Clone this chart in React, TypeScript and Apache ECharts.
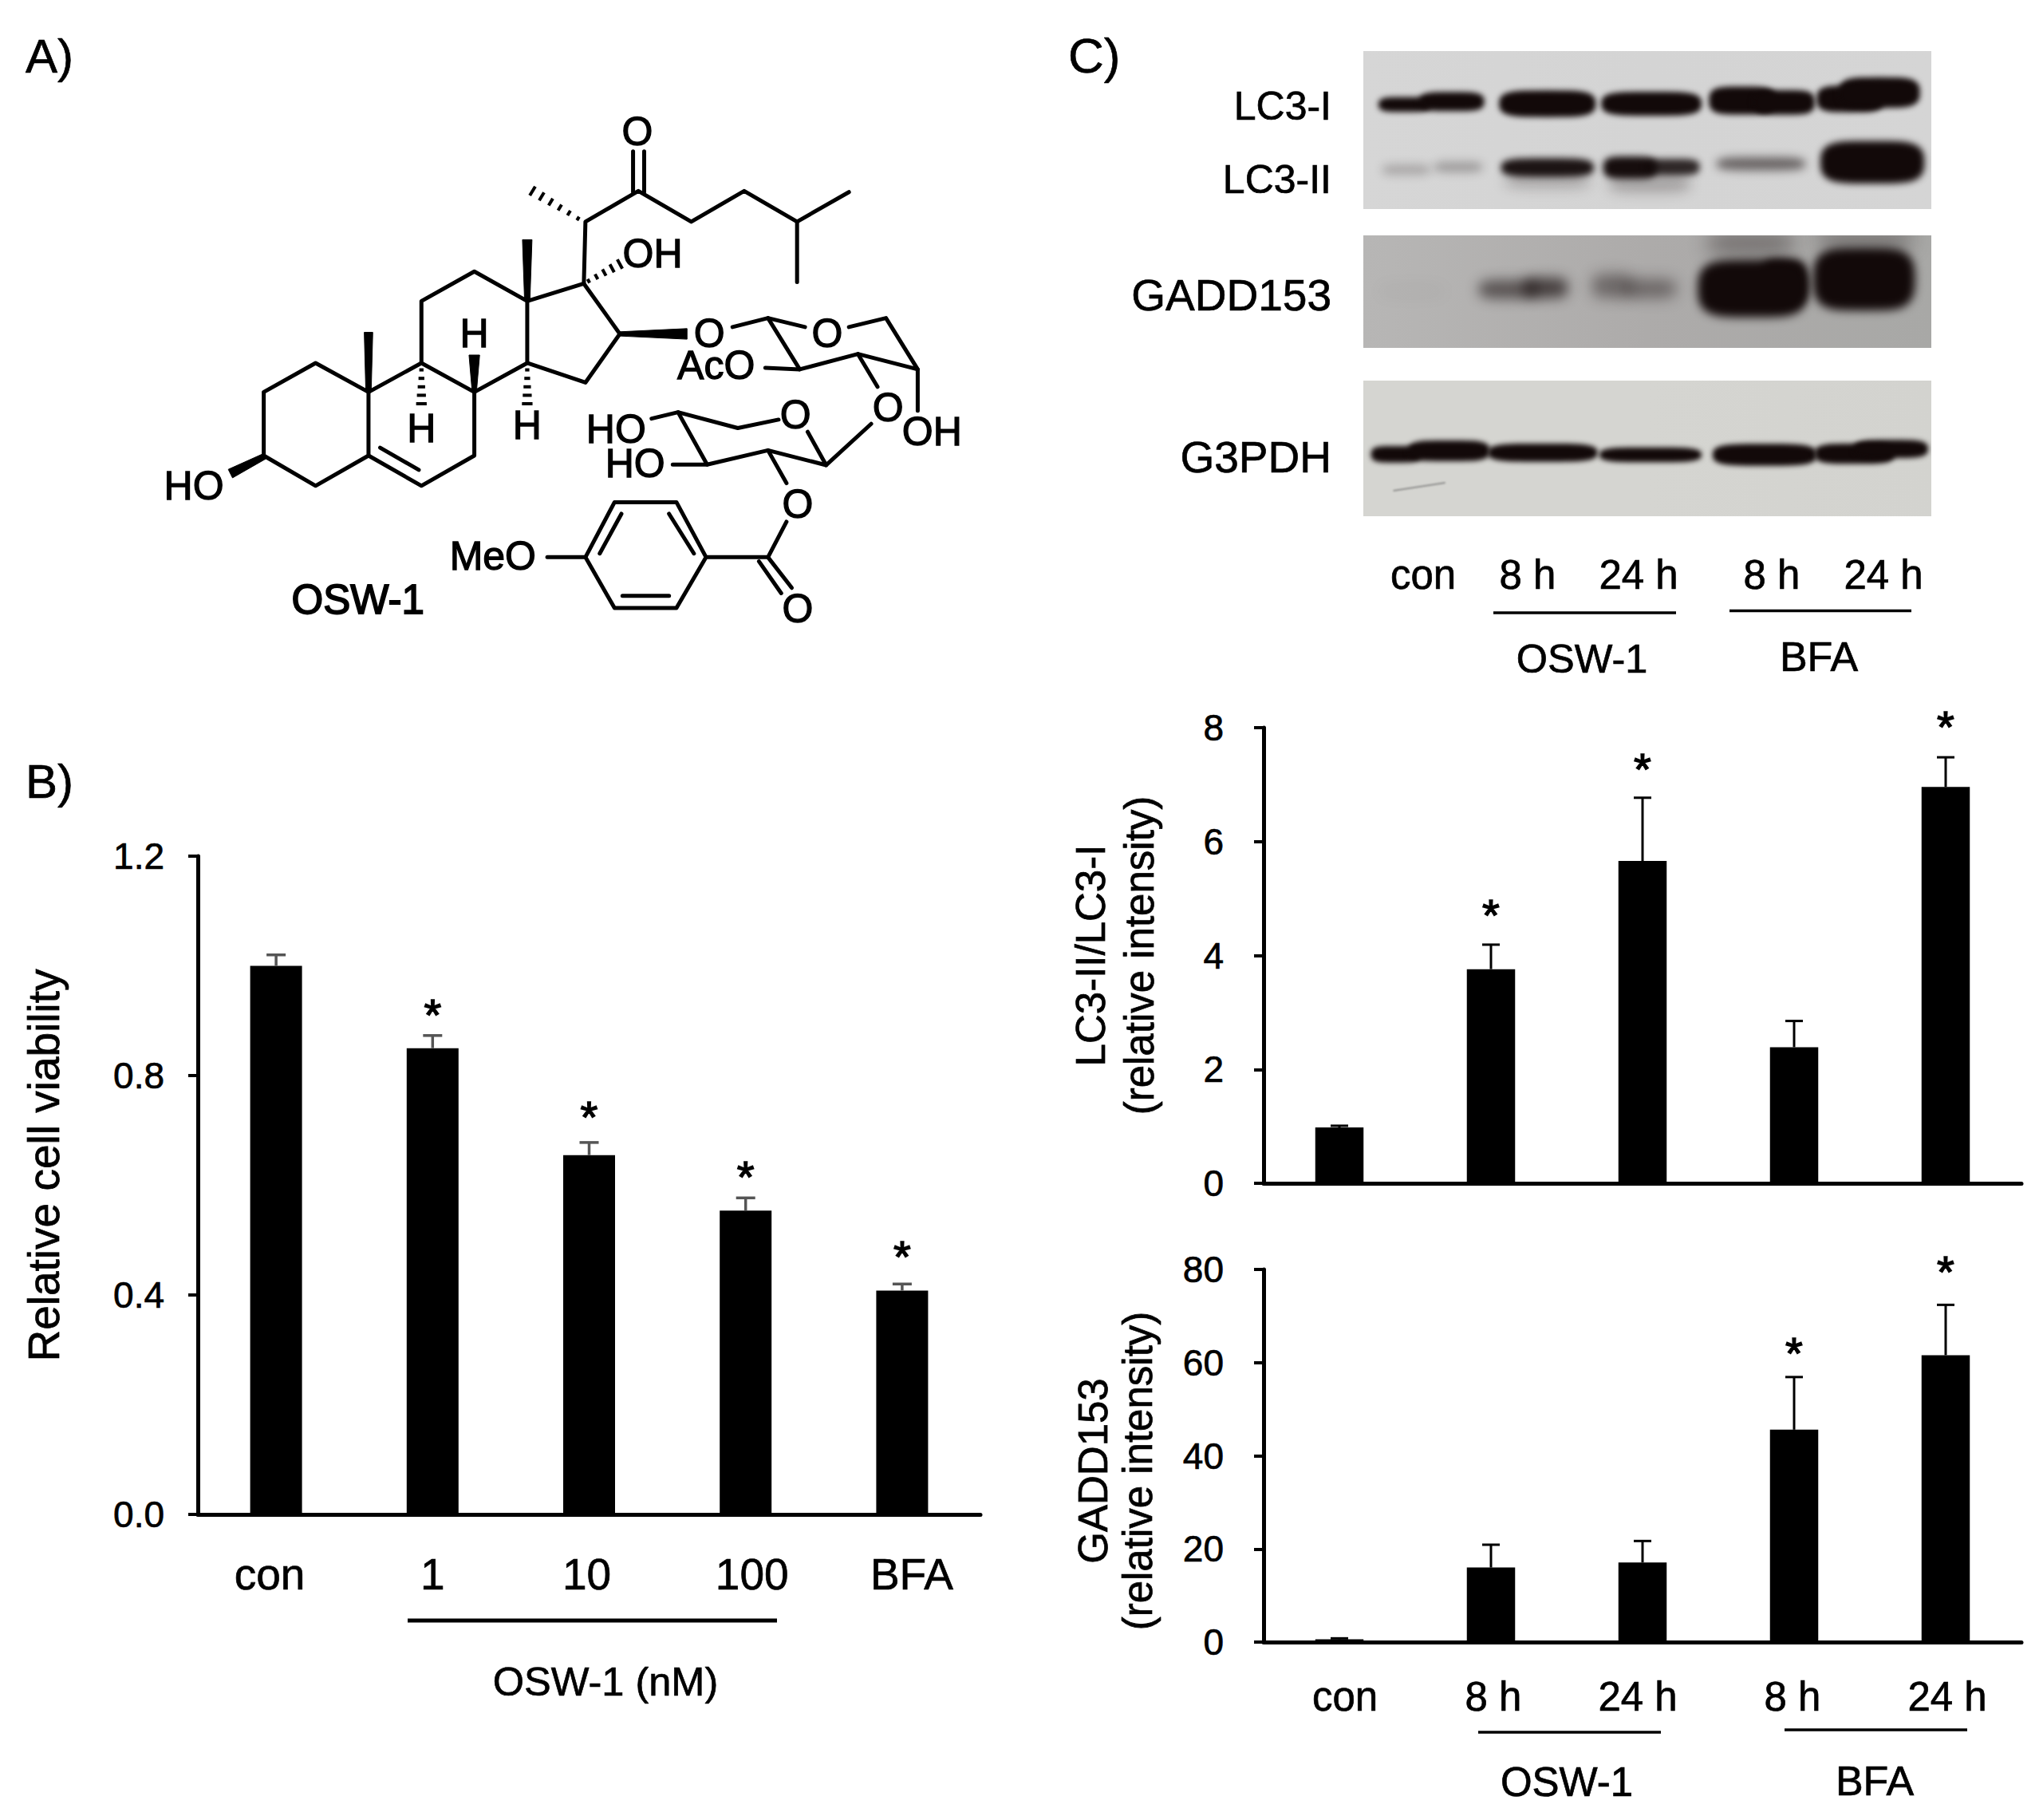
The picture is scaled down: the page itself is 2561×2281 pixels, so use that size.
import React, { useEffect, useRef } from "react";
import * as echarts from "echarts";

const FONT = '"Liberation Sans", Arial, sans-serif';

// ---------- Panel B data
const viabilityCategories = ["con", "1", "10", "100", "BFA"];
const viabilityValues = [1.0, 0.85, 0.655, 0.554, 0.408];
const viabilityErrorTops = [1.02, 0.873, 0.678, 0.577, 0.42];
const viabilityStarY = [null, 0.923, 0.737, 0.628, 0.482];
const viabilityStarX = [0, 0.995, 2.05, 3.005, 4.035];
const viabilityLabelShift = [-8, 0, -3, 8, 12];

// ---------- Panel C data
const timeCategories = ["con", "8 h", "24 h", "8 h", "24 h"];
const lc3Values = [0.98, 3.76, 5.66, 2.39, 6.96];
const lc3ErrorTops = [1.01, 4.19, 6.77, 2.85, 7.48];
const lc3StarY = [null, 4.82, 7.39, null, 8.14];
const gaddValues = [0.6, 16, 17.1, 45.6, 61.6];
const gaddErrorTops = [0.8, 20.9, 21.7, 56.9, 72.4];
const gaddStarY = [null, null, null, 63.4, 81.0];
const timeStarX = [0, 1, 2, 3, 4];
const timeLabelShift = [7, 3, -6, -2, 2];

// ---------- Western blots: bands are [x1, x2, y, thickness, alpha, blur] in crop units of the reference
const lc3Bands = [
  [60, 200, 243, 56, 1, 3.5], [170, 345, 232, 72, 1, 3.5], [385, 645, 240, 100, 1, 3.5], [660, 930, 240, 90, 1, 3.5],
  [950, 1130, 228, 105, 1, 3.5], [1070, 1235, 235, 92, 1, 3.5], [1240, 1420, 222, 100, 1, 3.5], [1300, 1518, 198, 115, 1, 3.5],
  [70, 200, 488, 40, 0.22, 6], [210, 340, 478, 40, 0.28, 6],
  [400, 630, 530, 56, 0.22, 8], [390, 640, 480, 70, 0.95, 4.5], [680, 900, 540, 66, 0.25, 8],
  [665, 810, 480, 84, 0.98, 4.5], [780, 925, 478, 62, 0.85, 4.5], [970, 1210, 466, 50, 0.55, 6], [1250, 1530, 460, 160, 1, 4],
];
const gaddBands = [
  [60, 240, 225, 40, 0.03, 10], [330, 490, 218, 72, 0.55, 8], [450, 570, 212, 78, 0.66, 8],
  [635, 745, 205, 90, 0.42, 9], [720, 862, 215, 72, 0.42, 9],
  [945, 1180, 45, 90, 0.35, 12], [1240, 1500, 30, 70, 0.35, 12], [1090, 1215, 190, 170, 1, 6],
  [920, 1215, 215, 215, 1, 6], [1230, 1505, 180, 235, 1, 6],
];
const g3pdhBands = [
  [40, 175, 838, 62, 1, 3], [140, 360, 825, 78, 1, 3], [355, 650, 832, 68, 1, 3], [655, 930, 840, 56, 1, 3],
  [960, 1240, 840, 82, 1, 3], [1235, 1450, 836, 76, 1, 3], [1340, 1540, 818, 68, 1, 3],
];
const blotPanels = [
  { y1: 64, y2: 262, originY: 50, stops: ["#d6d6d6", "#d4d4d4", "#d5d5d5"], bands: lc3Bands },
  { y1: 295, y2: 436, originY: 290, stops: ["#b7b6b5", "#adabaa", "#a8a8a6"], bands: gaddBands },
  { y1: 477, y2: 647, originY: 290, stops: ["#d5d5d1", "#d5d5d1", "#d3d3cf"], bands: g3pdhBands },
];

// ---------- OSW-1 structure (crop units of the reference)
const bondChains = [
  [[212, 560], [310, 505], [410, 560], [410, 680], [310, 737], [212, 680], [212, 560]],
  [[410, 560], [510, 505], [610, 560], [610, 680], [510, 737], [410, 680]],
  [[510, 505], [510, 388], [610, 332], [710, 388], [710, 505], [610, 560]],
  [[710, 388], [817, 355], [885, 450], [820, 542], [710, 505]],
  [[432, 665], [505, 707]],
  [[817, 355], [820, 238], [920, 180], [1020, 238], [1120, 180], [1220, 238], [1318, 182]],
  [[1220, 238], [1220, 352]],
  [[910, 182], [910, 105]],
  [[931, 182], [931, 105]],
  [[1098, 437], [1165, 420], [1235, 437]],
  [[1318, 437], [1388, 420], [1448, 517], [1335, 488], [1225, 517], [1165, 420]],
  [[1160, 514], [1225, 517]],
  [[1335, 488], [1372, 550]],
  [[1448, 517], [1448, 595]],
  [[1360, 620], [1275, 698], [1240, 635]],
  [[1185, 612], [1108, 628], [995, 598], [945, 610]],
  [[995, 598], [1050, 697], [985, 697]],
  [[1050, 697], [1165, 670], [1275, 698]],
  [[1165, 670], [1200, 732]],
  [[1200, 805], [1165, 872], [1048, 872], [992, 768], [875, 768], [820, 872], [875, 968], [992, 968], [1048, 872]],
  [[1165, 872], [1210, 930]],
  [[1148, 880], [1190, 940]],
  [[978, 790], [1025, 865]],
  [[888, 790], [847, 865]],
  [[890, 945], [978, 945]],
  [[820, 872], [748, 872]],
];
const wedges = [
  [[405, 560], [415, 560], [418, 447], [402, 447]],
  [[705, 388], [715, 388], [719, 272], [701, 272]],
  [[606, 560], [614, 560], [620, 490], [600, 490]],
  [[212, 676], [216, 686], [153, 722], [145, 706]],
  [[885, 446], [885, 454], [1012, 460], [1012, 440]],
];
const hashes = [
  [[510, 518], [510, 582], 5],
  [[710, 518], [710, 582], 5],
  [[806, 232], [720, 180], 6],
  [[826, 350], [885, 318], 5],
];
const atomLabels = [
  ["O", 918, 68], ["OH", 947, 298], ["H", 610, 450], ["H", 510, 628], ["H", 710, 622], ["HO", 80, 738],
  ["O", 1054, 450], ["O", 1277, 450], ["AcO", 1067, 510], ["O", 1392, 590], ["OH", 1475, 635], ["O", 1217, 603],
  ["HO", 878, 630], ["HO", 914, 695], ["O", 1221, 772], ["O", 1221, 970], ["MeO", 645, 870],
];

function makeBlotImage() {
  const KX = 2.148;
  const ox = 1709, oy = 64, w = 712, h = 584;
  const c = document.createElement("canvas");
  c.width = w;
  c.height = h;
  const ctx = c.getContext("2d") as CanvasRenderingContext2D;
  const X = (z: number) => 1700 + z / KX - ox;
  blotPanels.forEach((p) => {
    const y1 = p.y1 - oy, y2 = p.y2 - oy;
    ctx.save();
    ctx.beginPath();
    ctx.rect(0, y1, w, y2 - y1);
    ctx.clip();
    const g = ctx.createLinearGradient(0, 0, w, 0);
    g.addColorStop(0, p.stops[0]);
    g.addColorStop(0.5, p.stops[1]);
    g.addColorStop(1, p.stops[2]);
    ctx.fillStyle = g;
    ctx.fillRect(0, y1, w, y2 - y1);
    p.bands.forEach(([x1, x2, y, t, a, b]) => {
      ctx.filter = `blur(${b}px)`;
      ctx.fillStyle = `rgba(18,9,9,${a})`;
      const cx = X((x1 + x2) / 2), cy = p.originY + y / 3 - oy;
      const rx = (x2 - x1) / KX / 2, ry = t / 3 / 2;
      ctx.beginPath();
      for (let i = 0; i <= 72; i++) {
        const th = (i / 72) * Math.PI * 2;
        const co = Math.cos(th), si = Math.sin(th);
        const px = cx + rx * Math.sign(co) * Math.pow(Math.abs(co), 0.45);
        const py = cy + ry * Math.sign(si) * Math.pow(Math.abs(si), 0.7);
        if (i === 0) ctx.moveTo(px, py);
        else ctx.lineTo(px, py);
      }
      ctx.closePath();
      ctx.fill();
    });
    ctx.filter = "none";
    if (p.bands === g3pdhBands) {
      ctx.filter = "blur(1.2px)";
      ctx.strokeStyle = "rgba(90,90,90,0.55)";
      ctx.lineWidth = 2;
      ctx.beginPath();
      ctx.moveTo(X(100), 290 + 975 / 3 - oy);
      ctx.lineTo(X(240), 290 + 945 / 3 - oy);
      ctx.stroke();
      ctx.filter = "none";
    }
    ctx.restore();
  });
  return { url: c.toDataURL("image/png"), ox, oy, w, h };
}

function txt(text: string, x: number, y: number, size: number, extra: any = {}) {
  const { align = "center", ...style } = extra;
  return {
    type: "text",
    silent: true,
    x,
    y,
    style: {
      text,
      fontSize: size,
      fontFamily: FONT,
      fill: "#000",
      stroke: "#000",
      lineWidth: 0.7,
      align,
      textAlign: align,
      verticalAlign: "middle",
      textVerticalAlign: "middle",
      ...style,
    },
  };
}

function seg(x1: number, x2: number, y1: number, y2: number, w: number) {
  return { type: "line", silent: true, shape: { x1, y1, x2, y2 }, style: { stroke: "#000", lineWidth: w } };
}

function structureElements() {
  const K = 1.5077;
  const X = (z: number) => 190 + z / K;
  const Y = (z: number) => 120 + z / K;
  const out: any[] = [];
  bondChains.forEach((chain) => {
    out.push({
      type: "polyline",
      silent: true,
      shape: { points: chain.map(([a, b]) => [X(a), Y(b)]) },
      style: { stroke: "#000", lineWidth: 5, fill: "none", lineJoin: "round", lineCap: "round" },
    });
  });
  wedges.forEach((w) => {
    out.push({
      type: "polygon",
      silent: true,
      shape: { points: w.map(([a, b]) => [X(a), Y(b)]) },
      style: { fill: "#000", stroke: "#000", lineWidth: 1 },
    });
  });
  hashes.forEach(([p, q, n]: any) => {
    const dx = q[0] - p[0], dy = q[1] - p[1];
    const len = Math.hypot(dx, dy);
    const px = -dy / len, py = dx / len;
    for (let i = 0; i < n; i++) {
      const t = i / (n - 1);
      const half = 4 + t * 6;
      const cx = p[0] + dx * t, cy = p[1] + dy * t;
      out.push(seg(X(cx - px * half), X(cx + px * half), Y(cy - py * half), Y(cy + py * half), 4));
    }
  });
  atomLabels.forEach(([t, a, b]: any) => {
    out.push(txt(t, X(a), Y(b), 50, { lineWidth: 1.3 }));
  });
  out.push(txt("OSW-1", X(390), Y(952), 51, { lineWidth: 1.8 }));
  return out;
}

function errorSeries(
  xAxisIndex: number,
  values: number[],
  tops: number[],
  starY: (number | null)[],
  starX: number[],
  color: string,
  lw: number,
  capW: number,
) {
  return {
    type: "custom",
    xAxisIndex,
    yAxisIndex: xAxisIndex,
    silent: true,
    z: 5,
    clip: false,
    encode: { x: 0, y: 2 },
    data: values.map((v, i) => [i, v, tops[i], starY[i] == null ? NaN : starY[i], starX[i]]),
    renderItem: (_: any, api: any) => {
      const i = api.value(0);
      const base = api.coord([i, api.value(1)]);
      const top = api.coord([i, api.value(2)]);
      const children: any[] = [
        { type: "line", shape: { x1: base[0], y1: base[1], x2: top[0], y2: top[1] }, style: { stroke: color, lineWidth: lw } },
        {
          type: "line",
          shape: { x1: top[0] - capW / 2, y1: top[1], x2: top[0] + capW / 2, y2: top[1] },
          style: { stroke: color, lineWidth: lw },
        },
      ];
      const sy = api.value(3);
      if (!isNaN(sy)) {
        const p = api.coord([api.value(4), sy]);
        children.push({
          type: "text",
          x: p[0],
          y: p[1] + 8,
          style: {
            text: "*",
            fontSize: 56,
            fontFamily: FONT,
            fill: "#000",
            align: "center",
            textAlign: "center",
            verticalAlign: "middle",
            textVerticalAlign: "middle",
            stroke: "#000",
            lineWidth: 1.5,
          },
        });
      }
      return { type: "group", children };
    },
  };
}

function shiftedLabels(shifts: number[], size: number) {
  const rich: any = {};
  shifts.forEach((s, i) => {
    rich["s" + i] = {
      fontSize: size,
      fontFamily: FONT,
      color: "#000",
      textBorderColor: "#000",
      textBorderWidth: 0.7,
      padding: [0, s < 0 ? -2 * s : 0, 0, s > 0 ? 2 * s : 0],
    };
  });
  return { rich, formatter: (v: string, i: number) => `{s${i}|${v}}` };
}

export default function App() {
  const ref = useRef<HTMLDivElement>(null);
  useEffect(() => {
    const chart = echarts.init(ref.current as HTMLDivElement, undefined, { renderer: "svg" });
    const blot = makeBlotImage();

    const tickLabel = (margin: number) => ({
      fontSize: 46,
      fontFamily: FONT,
      color: "#000",
      textBorderColor: "#000",
      textBorderWidth: 0.7,
      margin,
    });
    const nameStyle = (fontSize: number, lineHeight: number, padding: number[]) => ({
      fontSize,
      lineHeight,
      padding,
      fontFamily: FONT,
      color: "#000",
      textBorderColor: "#000",
      textBorderWidth: 0.7,
    });
    const yAxisBase = (gridIndex: number, max: number, interval: number, margin: number) => ({
      type: "value",
      gridIndex,
      min: 0,
      max,
      interval,
      axisLine: { show: true, lineStyle: { color: "#000", width: 5 } },
      axisTick: { show: true, inside: false, length: 12, lineStyle: { color: "#000", width: 4 } },
      splitLine: { show: false },
      axisLabel: tickLabel(margin),
      nameLocation: "middle",
      nameRotate: 90,
    });
    const xAxisBase = (gridIndex: number, data: string[]) => ({
      type: "category",
      gridIndex,
      data,
      axisLine: { show: true, onZero: true, lineStyle: { color: "#000", width: 5 } },
      axisTick: { show: false },
      splitLine: { show: false },
    });

    const barSeries = (idx: number, values: number[], w: number) => ({
      type: "bar",
      xAxisIndex: idx,
      yAxisIndex: idx,
      data: values,
      barWidth: w,
      itemStyle: { color: "#000" },
      silent: true,
      z: 2,
    });

    chart.setOption({
      animation: false,
      backgroundColor: "#fff",
      tooltip: { show: false },
      grid: [
        { left: 248, top: 1073, width: 981, height: 825, containLabel: false },
        { left: 1584, top: 912, width: 950, height: 571, containLabel: false },
        { left: 1584, top: 1591, width: 950, height: 467, containLabel: false },
      ],
      xAxis: [
        {
          ...xAxisBase(0, viabilityCategories),
          axisLabel: { show: true, interval: 0, margin: 47, ...shiftedLabels(viabilityLabelShift, 55) },
        },
        { ...xAxisBase(1, timeCategories), axisLabel: { show: false } },
        {
          ...xAxisBase(2, timeCategories),
          axisLabel: { show: true, interval: 0, margin: 43, ...shiftedLabels(timeLabelShift, 51) },
        },
      ],
      yAxis: [
        {
          ...yAxisBase(0, 1.2, 0.4, 42),
          axisLabel: { ...tickLabel(42), formatter: (v: number) => v.toFixed(1) },
          name: "Relative cell viability",
          nameGap: 163,
          nameTextStyle: nameStyle(55, 60, [0, 0, 0, 50]),
        },
        {
          ...yAxisBase(1, 8, 2, 50),
          name: "LC3-II/LC3-I\n(relative intensity)",
          nameGap: 125,
          nameTextStyle: nameStyle(51, 61, [0, 0, 0, 0]),
        },
        {
          ...yAxisBase(2, 80, 20, 50),
          name: "GADD153\n(relative intensity)",
          nameGap: 130,
          nameTextStyle: nameStyle(51, 56, [0, 38, 0, 0]),
        },
      ],
      series: [
        barSeries(0, viabilityValues, 65),
        errorSeries(0, viabilityValues, viabilityErrorTops, viabilityStarY, viabilityStarX, "#555", 3.5, 24),
        barSeries(1, lc3Values, 60.5),
        errorSeries(1, lc3Values, lc3ErrorTops, lc3StarY, timeStarX, "#000", 3, 22),
        barSeries(2, gaddValues, 60.5),
        errorSeries(2, gaddValues, gaddErrorTops, gaddStarY, timeStarX, "#000", 3, 22),
      ],
      graphic: {
        elements: [
          txt("A)", 32, 70, 60, { align: "left" }),
          txt("B)", 32, 979, 60, { align: "left" }),
          txt("C)", 1339, 69, 62, { align: "left" }),
          {
            type: "image",
            silent: true,
            x: blot.ox,
            y: blot.oy,
            style: { image: blot.url, x: 0, y: 0, width: blot.w, height: blot.h },
          },
          txt("LC3-I", 1669, 133, 50, { align: "right" }),
          txt("LC3-II", 1669, 225, 50, { align: "right" }),
          txt("GADD153", 1669, 370, 55, { align: "right" }),
          txt("G3PDH", 1669, 573, 55, { align: "right" }),
          txt("con", 1784, 720, 51),
          txt("8 h", 1915, 720, 51),
          txt("24 h", 2054, 720, 51),
          txt("8 h", 2221, 720, 51),
          txt("24 h", 2361, 720, 51),
          seg(1872, 2101, 768, 768, 3.5),
          seg(2168, 2396, 765.5, 765.5, 3.5),
          txt("OSW-1", 1983, 825, 50.5),
          txt("BFA", 2280, 823, 52),
          seg(511, 974, 2031, 2031, 5),
          txt("OSW-1 (nM)", 759, 2107, 50.5),
          seg(1853, 2082, 2171, 2171, 3.5),
          seg(2237, 2466, 2168, 2168, 3.5),
          txt("OSW-1", 1964, 2233, 51),
          txt("BFA", 2350, 2232, 52),
          ...structureElements(),
        ],
      },
    });
    return () => chart.dispose();
  }, []);
  return <div ref={ref} style={{ position: "absolute", left: 0, top: 0, width: 2561, height: 2281 }} />;
}
